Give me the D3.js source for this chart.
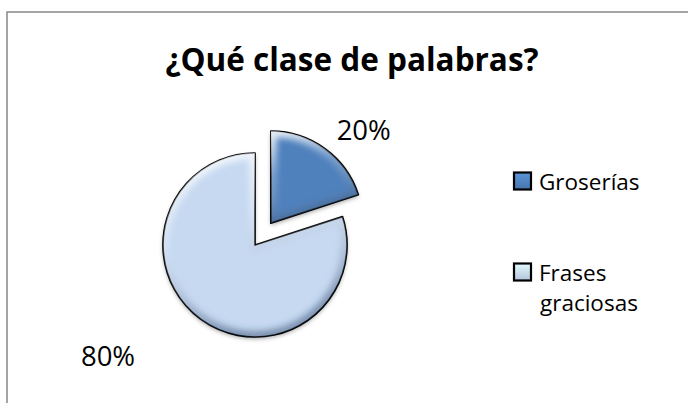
<!DOCTYPE html>
<html>
<head>
<meta charset="utf-8">
<script src="https://cdn.jsdelivr.net/npm/d3@7/dist/d3.min.js"></script>
<style>
  html, body { margin: 0; padding: 0; background: #fff; }
  svg { display: block; }
  text { font-family: "Open Sans", "Liberation Sans", sans-serif; fill: #000; }
</style>
</head>
<body>
<svg id="chart" width="688" height="403"></svg>
<script>
// Chart data
const title = "¿Qué clase de palabras?";
const categories = ["Groserías", "Frases graciosas"];
const values = [20, 80];
const valueLabels = ["20%", "80%"];
const legendLines = [["Groserías"], ["Frases", "graciosas"]];
const colors = ["#4F81BD", "#C6D9F1"];
const explode = [27, 0];

const W = 688, H = 403;
const svg = d3.select("#chart");
const defs = svg.append("defs");

// Chart area frame (only top and left edges fall inside the view)
svg.append("rect")
  .attr("x", 7).attr("y", 12)
  .attr("width", W + 20).attr("height", H + 20)
  .attr("fill", "#fff")
  .attr("stroke", "#888").attr("stroke-width", 1.5);

// Title
svg.append("text")
  .attr("x", 352).attr("y", 71)
  .attr("text-anchor", "middle")
  .attr("font-weight", "bold")
  .attr("font-size", 31.5)
  .text(title);

// Filters: soft drop shadow and blur for the bevel highlight
const shadow = defs.append("filter").attr("id", "shadow")
  .attr("x", "-20%").attr("y", "-20%").attr("width", "140%").attr("height", "140%");
shadow.append("feDropShadow")
  .attr("dx", 0).attr("dy", 2).attr("stdDeviation", 2)
  .attr("flood-color", "#000").attr("flood-opacity", 0.35);

const soft = defs.append("filter").attr("id", "soft")
  .attr("x", "-20%").attr("y", "-20%").attr("width", "140%").attr("height", "140%");
soft.append("feGaussianBlur").attr("stdDeviation", 3);

const bevel = defs.append("linearGradient").attr("id", "bevel")
  .attr("x1", 0).attr("y1", 0).attr("x2", 0.3).attr("y2", 1);
bevel.append("stop").attr("offset", 0).attr("stop-color", "#fff").attr("stop-opacity", 0.9);
bevel.append("stop").attr("offset", 0.45).attr("stop-color", "#fff").attr("stop-opacity", 0.25);
bevel.append("stop").attr("offset", 1).attr("stop-color", "#1f3a60").attr("stop-opacity", 0.45);

// Pie layout: first slice starts at 12 o'clock, clockwise
const cx = 255, cy = 245, R = 92;
const pie = d3.pie().sort(null).value(d => d)(values);
const arc = d3.arc().innerRadius(0).outerRadius(R);

const g = svg.append("g").attr("transform", `translate(${cx},${cy})`);

const slices = g.selectAll("g.slice").data(pie).join("g")
  .attr("class", "slice")
  .attr("transform", (d, i) => {
    const mid = (d.startAngle + d.endAngle) / 2;
    const [dx, dy] = d3.pointRadial(mid, explode[i]);
    return `translate(${dx},${dy})`;
  });

slices.each(function(d, i) {
  const s = d3.select(this);
  const path = arc(d);
  defs.append("clipPath").attr("id", "clip" + i).append("path").attr("d", path)
    .attr("transform", s.attr("transform"));
  s.append("path").attr("d", path).attr("fill", colors[i]).attr("filter", "url(#shadow)");
  // inner bevel rim
  const inner = svg.append("g").attr("clip-path", `url(#clip${i})`)
    .attr("transform", `translate(${cx},${cy})`);
  inner.append("path")
    .attr("d", path)
    .attr("transform", s.attr("transform"))
    .attr("fill", "none")
    .attr("stroke", "url(#bevel)")
    .attr("stroke-width", 12)
    .attr("filter", "url(#soft)");
});

// Slice outlines on top
slices.each(function(d, i) {
  g.append("path")
    .attr("d", arc(d))
    .attr("transform", d3.select(this).attr("transform"))
    .attr("fill", "none")
    .attr("stroke", "#000")
    .attr("stroke-width", 1.7)
    .attr("stroke-linejoin", "round");
});

// Value labels (best-fit placement around the pie)
const labelRadius = [132, 184];
const labelShift = [0.152, 0.297];
pie.forEach((d, i) => {
  const mid = (d.startAngle + d.endAngle) / 2;
  const [ex, ey] = d3.pointRadial(mid, explode[i]);
  const [lx, ly] = d3.pointRadial(mid + labelShift[i], labelRadius[i]);
  svg.append("text")
    .attr("x", cx + ex + lx).attr("y", cy + ey + ly)
    .attr("text-anchor", "middle")
    .attr("dominant-baseline", "central")
    .attr("font-size", 27.5)
    .text(valueLabels[i]);
});

// Legend: marker plus one text line per wrapped row
const legendX = 514, legendRows = [181, 272], lineGap = 30;
categories.forEach((c, i) => {
  const y = legendRows[i];
  const grad = defs.append("linearGradient").attr("id", "lg" + i)
    .attr("x1", 0).attr("y1", 0).attr("x2", 0).attr("y2", 1);
  grad.append("stop").attr("offset", 0).attr("stop-color", d3.color(colors[i]).brighter(0.4));
  grad.append("stop").attr("offset", 1).attr("stop-color", d3.color(colors[i]).darker(0.3));
  svg.append("rect")
    .attr("x", legendX).attr("y", y - 8.5)
    .attr("width", 17).attr("height", 17)
    .attr("fill", `url(#lg${i})`)
    .attr("stroke", "#000").attr("stroke-width", 2.2);
  legendLines[i].forEach((line, k) => {
    svg.append("text")
      .attr("x", legendX + 25 + (k > 0 ? 1 : 0))
      .attr("y", y + 8.5 + k * lineGap)
      .attr("font-size", 22.5)
      .text(line);
  });
});
</script>
</body>
</html>
